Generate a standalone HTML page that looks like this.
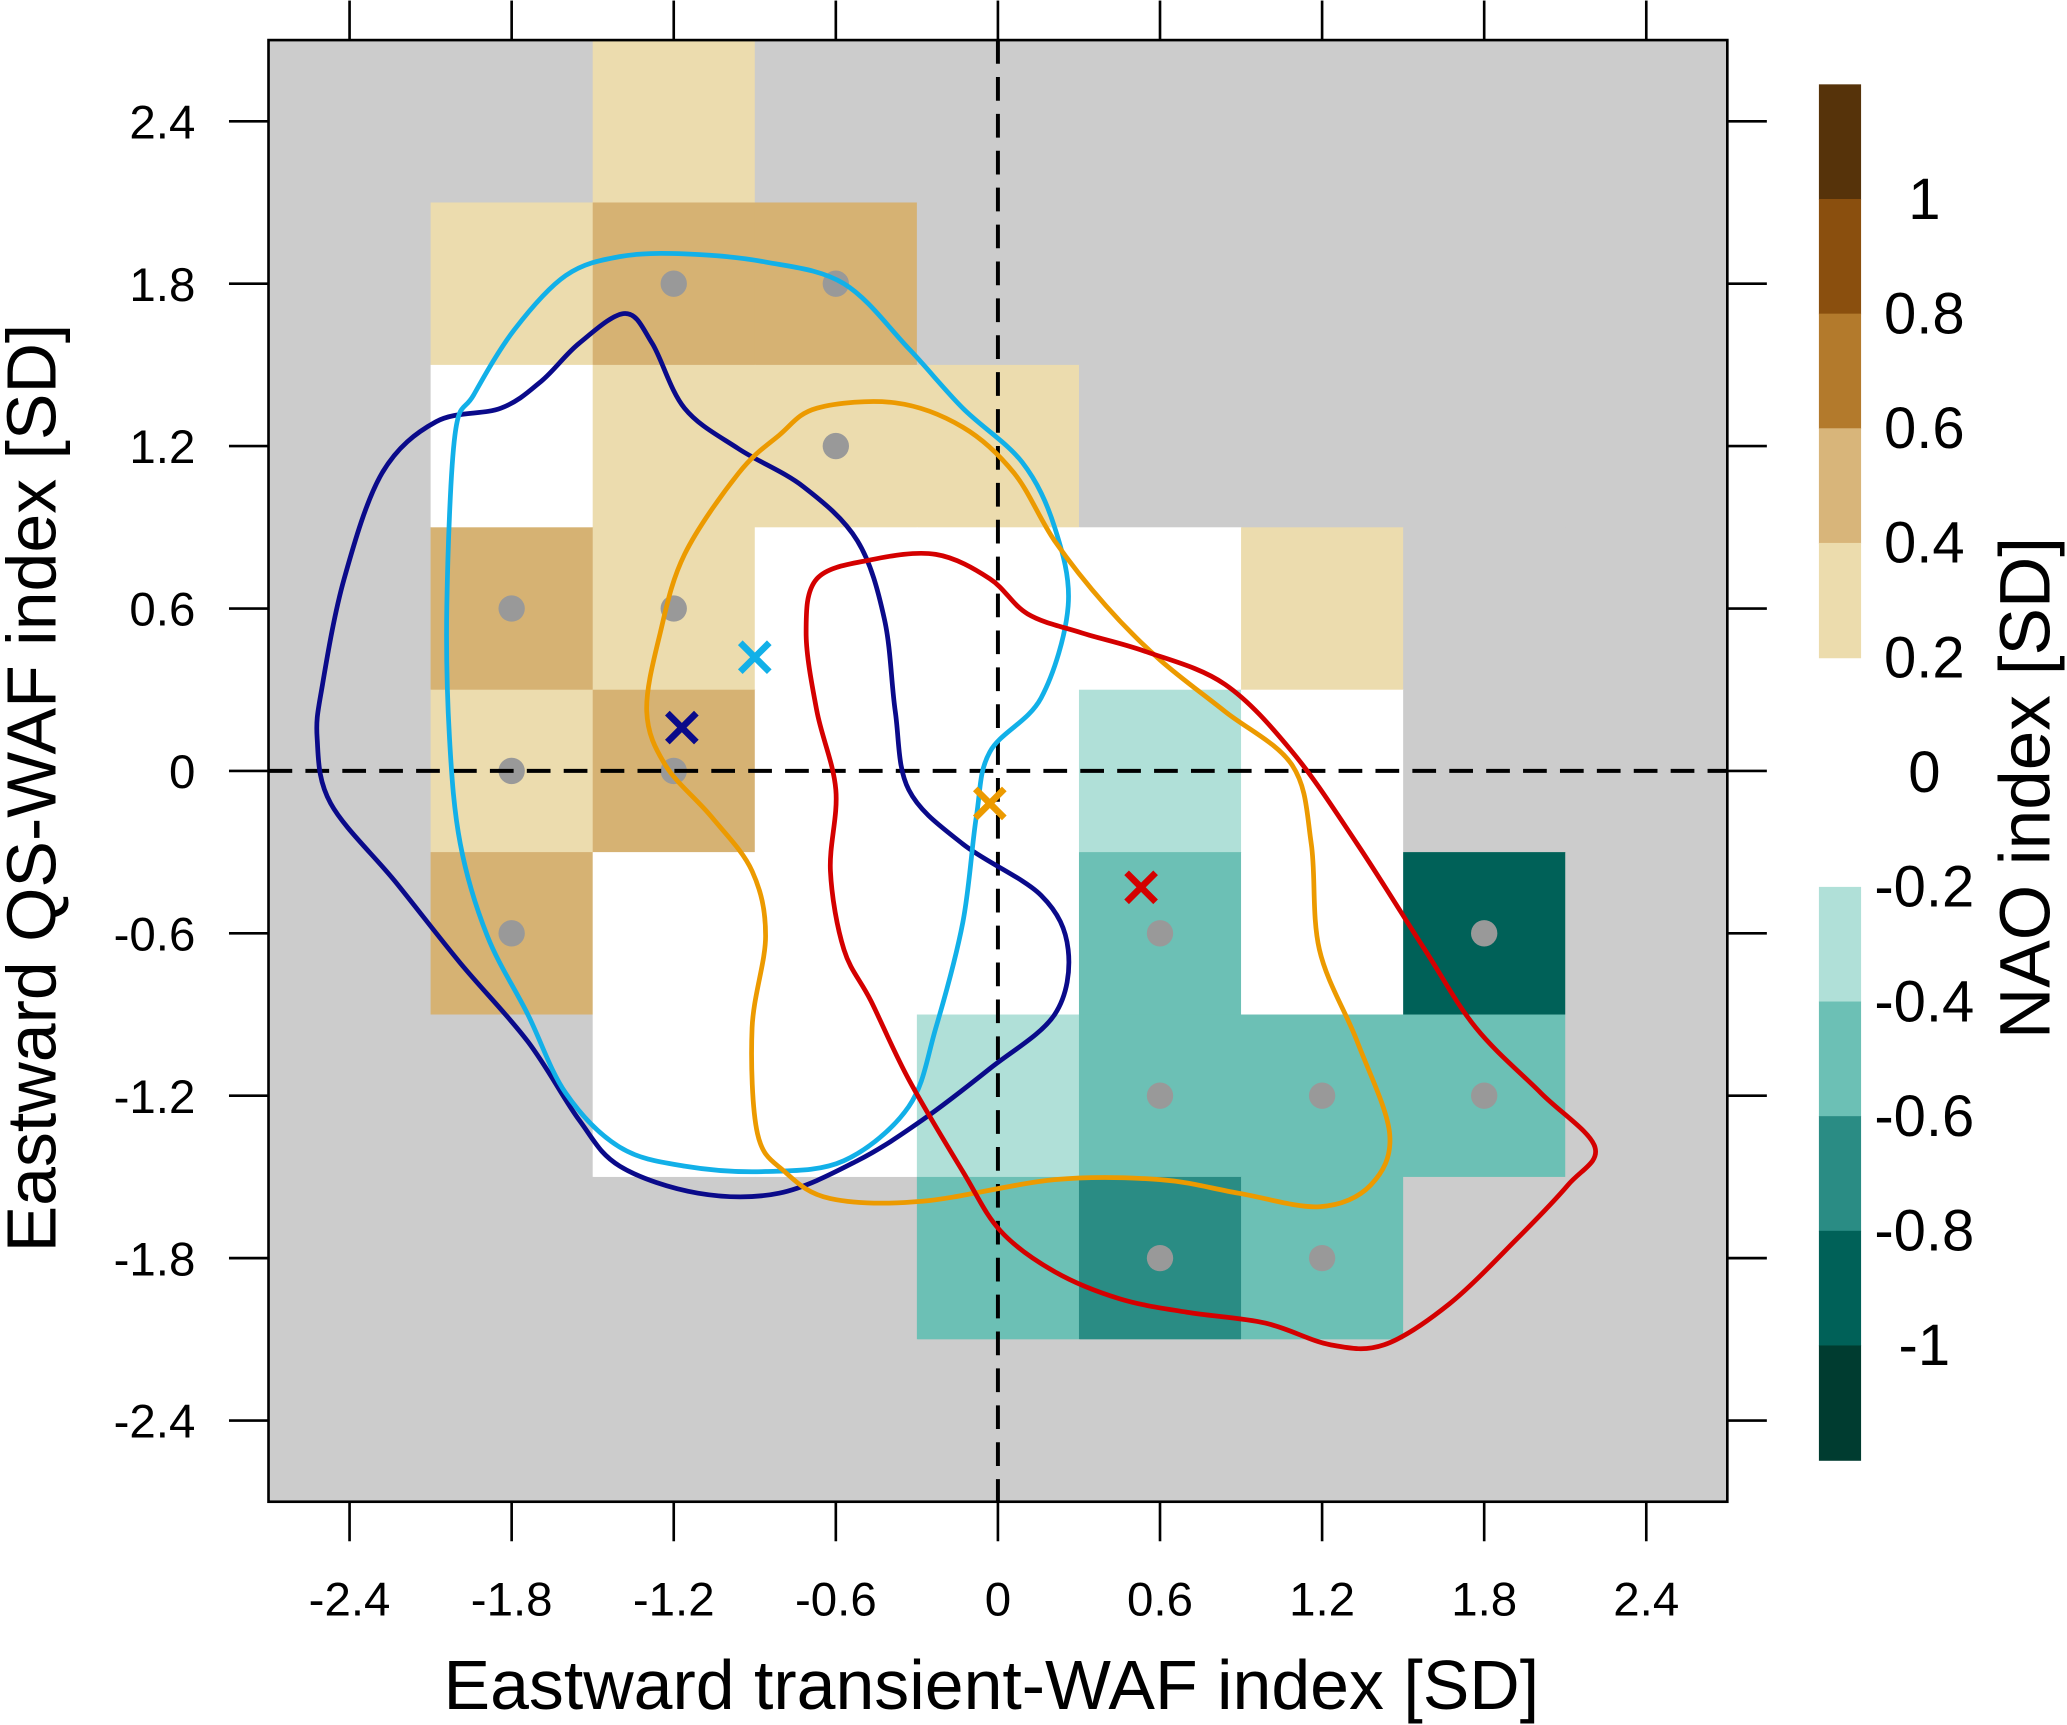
<!DOCTYPE html>
<html><head><meta charset="utf-8"><style>html,body{margin:0;padding:0;background:#fff}svg{display:block}</style></head>
<body>
<svg id="chart" width="2067" height="1725" viewBox="0 0 1568 1309" xmlns="http://www.w3.org/2000/svg" font-family="Liberation Sans, sans-serif"></svg>
<script>
// ---- data ----
const gridCenters = [-2.4,-1.8,-1.2,-0.6,0,0.6,1.2,1.8,2.4];
const naoRow_2_4  = [null,null,0.3,null,null,null,null,null,null];
const naoRow_1_8  = [null,0.3,0.5,0.5,null,null,null,null,null];
const naoRow_1_2  = [null,0.0,0.3,0.3,0.3,null,null,null,null];
const naoRow_0_6  = [null,0.5,0.3,0.0,0.0,0.0,0.3,null,null];
const naoRow_0_0  = [null,0.3,0.5,0.0,0.0,-0.3,0.0,null,null];
const naoRow_m0_6 = [null,0.5,0.0,0.0,0.0,-0.5,0.0,-0.9,null];
const naoRow_m1_2 = [null,null,0.0,0.0,-0.3,-0.5,-0.5,-0.5,null];
const naoRow_m1_8 = [null,null,null,null,-0.5,-0.7,-0.5,null,null];
const naoRow_m2_4 = [null,null,null,null,null,null,null,null,null];
const naoRows = [naoRow_2_4,naoRow_1_8,naoRow_1_2,naoRow_0_6,naoRow_0_0,naoRow_m0_6,naoRow_m1_2,naoRow_m1_8,naoRow_m2_4];
const rowCenters = [2.4,1.8,1.2,0.6,0,-0.6,-1.2,-1.8,-2.4];
const sigX = [-1.2,-0.6,-0.6,-1.8,-1.2,-1.8,-1.2,-1.8,0.6,1.8,0.6,1.2,1.8,0.6,1.2];
const sigY = [1.8,1.8,1.2,0.6,0.6,0,0,-0.6,-0.6,-0.6,-1.2,-1.2,-1.2,-1.8,-1.8];
const xTicks = [-2.4,-1.8,-1.2,-0.6,0,0.6,1.2,1.8,2.4];
const yTicks = [2.4,1.8,1.2,0.6,0,-0.6,-1.2,-1.8,-2.4];
const cbLabels = [1,0.8,0.6,0.4,0.2,0,-0.2,-0.4,-0.6,-0.8,-1];
const navyX = [-1.38,-1.28,-1.16,-0.96,-0.72,-0.52,-0.42,-0.38,-0.33,-0.13,0.16,0.26,0.21,-0.03,-0.28,-0.52,-0.81,-1.11,-1.40,-1.55,-1.74,-1.99,-2.23,-2.47,-2.52,-2.50,-2.42,-2.28,-2.08,-1.84,-1.69,-1.55];
const navyY = [1.69,1.58,1.34,1.19,1.05,0.85,0.56,0.22,-0.07,-0.27,-0.46,-0.66,-0.90,-1.10,-1.29,-1.44,-1.56,-1.56,-1.46,-1.29,-1.00,-0.71,-0.41,-0.12,0.12,0.32,0.71,1.10,1.29,1.34,1.44,1.58];
const cyanX = [-1.16,-0.86,-0.57,-0.33,-0.13,0.09,0.21,0.26,0.16,-0.03,-0.08,-0.13,-0.23,-0.33,-0.57,-0.86,-1.16,-1.40,-1.60,-1.74,-1.89,-1.99,-2.03,-2.04,-2.01,-1.94,-1.79,-1.60,-1.40];
const cyanY = [1.91,1.88,1.80,1.56,1.34,1.14,0.90,0.61,0.27,0.07,-0.17,-0.56,-0.95,-1.24,-1.44,-1.48,-1.46,-1.39,-1.19,-0.90,-0.61,-0.27,0.12,0.61,1.24,1.39,1.63,1.83,1.90];
const orangeX = [-0.67,-0.38,-0.13,0.06,0.21,0.40,0.60,0.84,1.09,1.16,1.19,1.33,1.45,1.38,1.19,0.89,0.60,0.21,-0.28,-0.62,-0.79,-0.89,-0.91,-0.86,-0.91,-1.06,-1.23,-1.30,-1.25,-1.16,-0.96,-0.81];
const orangeY = [1.34,1.36,1.27,1.10,0.85,0.61,0.41,0.22,0.02,-0.27,-0.66,-1.00,-1.34,-1.53,-1.61,-1.56,-1.51,-1.51,-1.59,-1.58,-1.48,-1.34,-0.95,-0.61,-0.37,-0.17,0.02,0.22,0.51,0.80,1.10,1.24];
const redX = [-0.67,-0.47,-0.23,-0.03,0.11,0.31,0.55,0.84,1.09,1.33,1.58,1.77,2.01,2.21,2.11,1.92,1.67,1.43,1.23,0.99,0.70,0.45,0.21,0.01,-0.13,-0.33,-0.47,-0.57,-0.62,-0.60,-0.67,-0.71];
const redY = [0.71,0.78,0.80,0.71,0.58,0.51,0.44,0.32,0.07,-0.27,-0.66,-0.95,-1.19,-1.39,-1.53,-1.73,-1.97,-2.12,-2.12,-2.04,-2.00,-1.95,-1.85,-1.70,-1.48,-1.14,-0.85,-0.66,-0.37,-0.07,0.22,0.51];
const centroidX = [-0.9,-1.17,-0.03,0.53];
const centroidY = [0.42,0.16,-0.12,-0.43];
const centroidColors = ['#12b0e8','#0a0a8a','#ec9a00','#d40000'];

// ---- axes ----
const X0=757, XS=205, Y0=585, YS=205.4;
const sx = v => X0 + v*XS;
const sy = v => Y0 - v*YS;
const svg = document.getElementById('chart');
const NS='http://www.w3.org/2000/svg';
function mk(tag, attrs, parent){const e=document.createElementNS(NS,tag);for(const k in attrs)e.setAttribute(k,attrs[k]);(parent||svg).appendChild(e);return e;}

function cellColor(v){
  if(v===null) return '#cccccc';
  if(v>=0.4) return '#d6b273';
  if(v>=0.2) return '#ecdcae';
  if(v>-0.2) return '#ffffff';
  if(v>-0.4) return '#b0e0d8';
  if(v>-0.6) return '#6cc0b5';
  if(v>-0.8) return '#2a8c84';
  return '#006158';
}

const cells = mk('g',{});


naoRows.forEach((row,ri)=>{
  row.forEach((v,ci)=>{
    const r = mk('rect',{x:sx(gridCenters[ci]-0.3),y:sy(rowCenters[ri]+0.3),width:sx(0.3)-sx(-0.3)+0.5,height:sy(-0.3)-sy(0.3)+0.5,fill:cellColor(v)},cells);
    
    
  });
});

const dots = mk('g',{});


sigX.forEach((x,i)=>{
  const c = mk('circle',{cx:sx(x),cy:sy(sigY[i]),r:10,fill:'#999999'},dots);
  
  
});

const zx = mk('line',{x1:sx(0),x2:sx(0),y1:sy(2.7),y2:sy(-2.7),stroke:'#000','stroke-width':3,'stroke-dasharray':'18,10'});


const zy = mk('line',{x1:sx(-2.7),x2:sx(2.7),y1:sy(0),y2:sy(0),stroke:'#000','stroke-width':3,'stroke-dasharray':'18,10'});



function smoothPath(xs,ys){
  const p = xs.map((x,i)=>[sx(x),sy(ys[i])]); const n=p.length;
  let d='M'+p[0][0]+','+p[0][1];
  for(let i=0;i<n;i++){
    const p0=p[(i-1+n)%n],p1=p[i],p2=p[(i+1)%n],p3=p[(i+2)%n];
    const c1=[p1[0]+(p2[0]-p0[0])/6,p1[1]+(p2[1]-p0[1])/6];
    const c2=[p2[0]-(p3[0]-p1[0])/6,p2[1]-(p3[1]-p1[1])/6];
    d+=` C${c1[0]},${c1[1]} ${c2[0]},${c2[1]} ${p2[0]},${p2[1]}`;
  }
  return d+'Z';
}
const contours=[[navyX,navyY,'#0a0a8a','contour-navy'],[cyanX,cyanY,'#12b0e8','contour-cyan'],[orangeX,orangeY,'#ec9a00','contour-orange'],[redX,redY,'#d40000','contour-red']];
contours.forEach(c=>{
  const p = mk('path',{d:smoothPath(c[0],c[1]),fill:'none',stroke:c[2],'stroke-width':3.6});
  
  
});
centroidX.forEach((x,i)=>{
  const cx=sx(x), cy=sy(centroidY[i]), s=11;
  const g = mk('path',{d:`M${cx-s},${cy-s}L${cx+s},${cy+s}M${cx-s},${cy+s}L${cx+s},${cy-s}`,stroke:centroidColors[i],'stroke-width':5});
  
  
});

const fr = mk('rect',{x:sx(-2.7),y:sy(2.7),width:sx(2.7)-sx(-2.7),height:sy(-2.7)-sy(2.7),fill:'none',stroke:'#000','stroke-width':2});


const frameTop=sy(2.7), frameBot=sy(-2.7), frameL=sx(-2.7), frameR=sx(2.7);
xTicks.forEach(t=>{
  mk('line',{x1:sx(t),x2:sx(t),y1:frameBot,y2:frameBot+30,stroke:'#000','stroke-width':2});
  mk('line',{x1:sx(t),x2:sx(t),y1:frameTop,y2:frameTop-30,stroke:'#000','stroke-width':2});
  const tx = mk('text',{x:sx(t),y:1226,'text-anchor':'middle','font-size':36});
  tx.textContent = t===0?'0':t.toFixed(1);
  
  
});
yTicks.forEach(t=>{
  mk('line',{x1:frameL-30,x2:frameL,y1:sy(t),y2:sy(t),stroke:'#000','stroke-width':2});
  mk('line',{x1:frameR,x2:frameR+30,y1:sy(t),y2:sy(t),stroke:'#000','stroke-width':2});
  const ty = mk('text',{x:148,y:sy(t)+13,'text-anchor':'end','font-size':36});
  ty.textContent = t===0?'0':t.toFixed(1);
  
  
});
const xt = mk('text',{x:752,y:1297,'text-anchor':'middle','font-size':53});
xt.textContent='Eastward transient-WAF index [SD]';


const yt = mk('text',{x:0,y:0,'text-anchor':'middle','font-size':53,transform:'translate(42,598) rotate(-90)'});
yt.textContent='Eastward QS-WAF index [SD]';



const cbTop=64, cbStep=87, cbX=1380, cbW=32;
const cbColors=['#56330a','#8a4f0e','#b37a2c','#d8b57a','#ecdcad',null,null,'#b0e0d8','#6cc0b5','#2a8c84','#006158','#003c30'];
const cb = mk('g',{});


cbColors.forEach((c,i)=>{ if(c){ mk('rect',{x:cbX,y:cbTop+i*cbStep,width:cbW,height:cbStep+0.5,fill:c},cb);} });
cbLabels.forEach((v,i)=>{
  const t = mk('text',{x:1460,y:cbTop+(i+1)*cbStep+15,'text-anchor':'middle','font-size':44},cb);
  t.textContent = (v===1||v===-1||v===0)?String(v):v.toFixed(1);
  
  
});
const ct = mk('text',{x:0,y:0,'text-anchor':'middle','font-size':54,transform:'translate(1555,598) rotate(-90)'});
ct.textContent='NAO index [SD]';


</script>
</body></html>
